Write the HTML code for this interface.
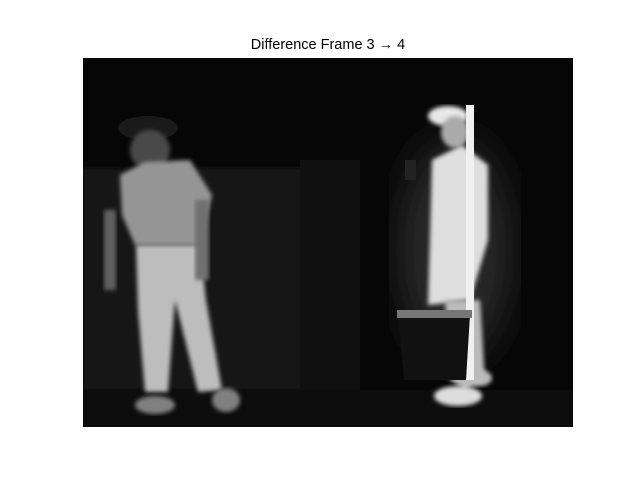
<!DOCTYPE html>
<html><head><meta charset="utf-8"><style>
body{margin:0;background:#fff;width:640px;height:480px;overflow:hidden;font-family:"Liberation Sans","DejaVu Sans",sans-serif}
</style></head><body>
<svg width="640" height="480">
<defs>
<filter id="b2"><feGaussianBlur stdDeviation="2"/></filter>
<filter id="b20"><feGaussianBlur stdDeviation="20"/></filter>
<clipPath id="c"><rect x="83" y="58" width="490" height="369"/></clipPath>
</defs>
<text x="328" y="49" text-anchor="middle" font-size="14.5" fill="#000">Difference Frame 3 → 4</text>
<g clip-path="url(#c)">
<rect x="83" y="58" width="490" height="369" fill="#060606"/>
<rect x="83" y="168" width="270" height="222" fill="#181818" filter="url(#b2)"/>
<rect x="300" y="160" width="60" height="230" fill="#101010"/>
<rect x="83" y="390" width="490" height="37" fill="#0c0c0c"/>
<ellipse cx="455" cy="250" rx="55" ry="110" fill="#2a2a2a" filter="url(#b20)"/>
<rect x="405" y="160" width="11" height="20" fill="#222"/>
<g>
<ellipse cx="148" cy="128" rx="30" ry="12" fill="#1a1a1a"/>
<ellipse cx="150" cy="150" rx="20" ry="20" fill="#484848" filter="url(#b2)"/>
<path d="M120 175 L145 162 L190 160 L212 195 L200 245 L135 245 L122 215 Z" fill="#959595" filter="url(#b2)"/>
<path d="M136 245 L200 245 L206 300 L222 390 L198 392 L175 300 L168 392 L145 392 L138 310 Z" fill="#bdbdbd" filter="url(#b2)"/>
<ellipse cx="155" cy="405" rx="20" ry="9" fill="#808080" filter="url(#b2)"/>
<ellipse cx="226" cy="400" rx="14" ry="12" fill="#808080" filter="url(#b2)"/>
<rect x="104" y="210" width="12" height="80" fill="#606060" filter="url(#b2)"/>
<rect x="195" y="200" width="14" height="80" fill="#707070" filter="url(#b2)"/>
</g>
<g>
<ellipse cx="448" cy="116" rx="20" ry="10" fill="#e8e8e8" filter="url(#b2)"/>
<ellipse cx="455" cy="132" rx="14" ry="16" fill="#aaa" filter="url(#b2)"/>
<path d="M432 160 L462 145 L488 165 L488 240 L470 300 L428 305 L430 240 Z" fill="#dedede" filter="url(#b2)"/>
<path d="M445 300 L480 300 L485 380 L465 390 L450 380 Z" fill="#bbb" filter="url(#b2)"/>
<ellipse cx="458" cy="396" rx="24" ry="10" fill="#ddd" filter="url(#b2)"/>
<ellipse cx="480" cy="378" rx="12" ry="8" fill="#bbb" filter="url(#b2)"/>
<rect x="466" y="105" width="8" height="275" fill="#f0f0f0"/>
</g>
<g>
<path d="M398 315 L470 315 L466 380 L404 380 Z" fill="#111"/>
<rect x="397" y="310" width="75" height="8" fill="#777"/>
</g>
</g>
</svg>
</body></html>
